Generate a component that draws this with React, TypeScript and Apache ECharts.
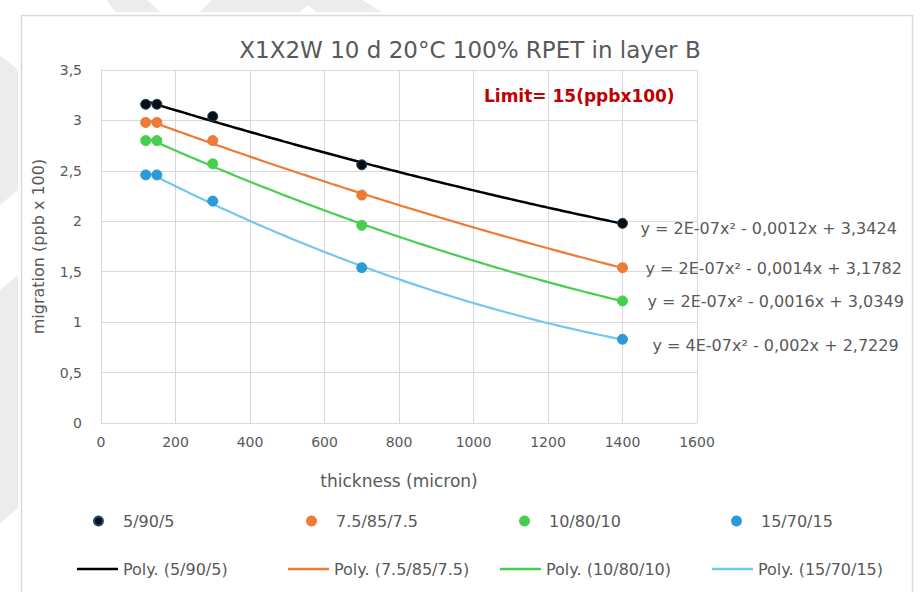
import React, { useEffect, useRef } from "react";
import * as echarts from "echarts";

// Layer thickness (micron) at which migration was measured
const thickness = [120, 150, 300, 700, 1400];

// Layer structures (outer / core / outer %)
const structures = ["5/90/5", "7.5/85/7.5", "10/80/10", "15/70/15"];

// Migration (ppb x 100) per structure
const migration_5_90_5 = [3.16, 3.16, 3.04, 2.56, 1.98];
const migration_75_85_75 = [2.98, 2.98, 2.8, 2.26, 1.54];
const migration_10_80_10 = [2.8, 2.8, 2.57, 1.96, 1.21];
const migration_15_70_15 = [2.46, 2.46, 2.2, 1.54, 0.83];

// Trendline equations as printed on the chart
const equations = [
  "y = 2E-07x\u00B2 - 0,0012x + 3,3424",
  "y = 2E-07x\u00B2 - 0,0014x + 3,1782",
  "y = 2E-07x\u00B2 - 0,0016x + 3,0349",
  "y = 4E-07x\u00B2 - 0,002x + 2,7229",
];

const xTicks = { min: 0, max: 1600, interval: 200 };
const yTicks = { min: 0, max: 3.5, interval: 0.5 };

const titleText = "X1X2W 10 d 20\u00B0C 100% RPET in layer B";
const limitText = "Limit= 15(ppbx100)";

const markerColors = ["#0b0f14", "#ee7a35", "#46cf4f", "#2a9ad8"];
const lineColors = ["#000000", "#ee7a35", "#46cf4f", "#72c7ef"];

// Least-squares quadratic fit (2nd order polynomial trendline)
function quadFit(xs: number[], ys: number[]) {
  let s0 = 0, s1 = 0, s2 = 0, s3 = 0, s4 = 0, t0 = 0, t1 = 0, t2 = 0;
  for (let i = 0; i < xs.length; i++) {
    const x = xs[i], y = ys[i];
    s0 += 1; s1 += x; s2 += x * x; s3 += x * x * x; s4 += x * x * x * x;
    t0 += y; t1 += x * y; t2 += x * x * y;
  }
  const A = [
    [s4, s3, s2, t2],
    [s3, s2, s1, t1],
    [s2, s1, s0, t0],
  ];
  for (let c = 0; c < 3; c++) {
    let p = c;
    for (let r = c + 1; r < 3; r++) if (Math.abs(A[r][c]) > Math.abs(A[p][c])) p = r;
    [A[c], A[p]] = [A[p], A[c]];
    for (let r = 0; r < 3; r++) {
      if (r === c) continue;
      const f = A[r][c] / A[c][c];
      for (let k = c; k < 4; k++) A[r][k] -= f * A[c][k];
    }
  }
  const a = A[0][3] / A[0][0];
  const b = A[1][3] / A[1][1];
  const c = A[2][3] / A[2][2];
  return (x: number) => a * x * x + b * x + c;
}

const labelOffsets: [number, number][] = [
  [18, 5],
  [23, 1],
  [25, 0],
  [30, 6],
];

export default function App() {
  const ref = useRef<HTMLDivElement>(null);

  useEffect(() => {
    if (!ref.current) return;
    const chart = echarts.init(ref.current, undefined, { renderer: "svg" });
    const allSeries = [migration_5_90_5, migration_75_85_75, migration_10_80_10, migration_15_70_15];
    const font = "'DejaVu Sans', sans-serif";

    const scatterSeries = allSeries.map((vals, i) => ({
      name: structures[i],
      type: "scatter",
      symbol: "circle",
      symbolSize: 10,
      z: 4,
      itemStyle: {
        color: markerColors[i],
        opacity: 1,
        borderColor: i === 0 ? "#1d4a6a" : markerColors[i],
        borderWidth: 1,
      },
      data: thickness.map((t, k) => [t, vals[k]]),
    }));

    const trendSeries = allSeries.map((vals, i) => {
      const f = quadFit(thickness, vals);
      const x0 = thickness[0];
      const x1 = thickness[thickness.length - 1];
      const pts: number[][] = [];
      for (let x = x0; x <= x1; x += 10) pts.push([x, f(x)]);
      return {
        name: "Poly. (" + structures[i] + ")",
        type: "line",
        showSymbol: false,
        symbol: "none",
        z: 3,
        color: lineColors[i],
        lineStyle: { color: lineColors[i], width: i === 0 ? 2.5 : 2.2 },
        itemStyle: { color: lineColors[i] },
        endLabel: {
          show: true,
          distance: 0,
          offset: labelOffsets[i],
          formatter: equations[i],
          color: "#595959",
          fontSize: 16,
          fontFamily: font,
        },
        data: pts,
      };
    });

    const markerLegendLeft = [93, 306, 519, 731];
    const lineLegendLeft = [77, 288, 500, 712];
    const legendText = { color: "#595959", fontSize: 16, fontFamily: font };

    const legends: any[] = [];
    structures.forEach((s, i) => {
      legends.push({
        data: [s],
        left: markerLegendLeft[i],
        top: 513,
        padding: 0,
        icon: "circle",
        itemWidth: 9,
        itemHeight: 9,
        selectedMode: false,
        textStyle: { ...legendText, padding: [0, 0, 0, 15] },
      });
      legends.push({
        data: ["Poly. (" + s + ")"],
        left: lineLegendLeft[i],
        top: 561,
        padding: 0,
        icon: "rect",
        itemWidth: 41,
        itemHeight: 2.5,
        selectedMode: false,
        textStyle: legendText,
      });
    });

    const wm = "#ececec";
    chart.setOption({
      animation: false,
      backgroundColor: "#ffffff",
      title: {
        text: titleText,
        left: 465,
        textAlign: "center",
        top: 33,
        textStyle: { color: "#595959", fontSize: 23, fontWeight: "normal", fontFamily: font },
      },
      grid: { left: 101, top: 70, width: 596, height: 353, containLabel: false },
      xAxis: {
        type: "value",
        min: xTicks.min,
        max: xTicks.max,
        interval: xTicks.interval,
        name: "thickness (micron)",
        nameLocation: "middle",
        nameGap: 49,
        nameTextStyle: { color: "#595959", fontSize: 17, fontFamily: font },
        axisLine: { show: true, lineStyle: { color: "#d9d9d9", width: 1 } },
        axisTick: { show: false },
        axisLabel: {
          color: "#595959",
          fontSize: 14,
          margin: 12,
          fontFamily: font,
          formatter: (v: number) => String(v),
        },
        splitLine: { show: true, lineStyle: { color: "#d9d9d9", width: 1 } },
      },
      yAxis: {
        type: "value",
        min: yTicks.min,
        max: yTicks.max,
        interval: yTicks.interval,
        name: "migration (ppb x 100)",
        nameLocation: "middle",
        nameGap: 55,
        nameRotate: 90,
        nameTextStyle: { color: "#595959", fontSize: 16, fontFamily: font },
        axisLine: { show: true, lineStyle: { color: "#d9d9d9", width: 1 } },
        axisTick: { show: false },
        axisLabel: {
          color: "#595959",
          fontSize: 14,
          margin: 19,
          fontFamily: font,
          formatter: (v: number) => String(v).replace(".", ","),
        },
        splitLine: { show: true, lineStyle: { color: "#d9d9d9", width: 1 } },
      },
      legend: legends,
      graphic: [
        // faint background watermark shapes
        { type: "polygon", z: -20, shape: { points: [[107, 0], [147, 0], [160, 12], [115, 12]] }, style: { fill: wm } },
        { type: "polygon", z: -20, shape: { points: [[200, 12], [212, 0], [362, 0], [382, 12], [316, 12], [308, 5], [300, 12]] }, style: { fill: wm } },
        { type: "polygon", z: -20, shape: { points: [[0, 55], [18, 70], [18, 190], [0, 205]] }, style: { fill: wm } },
        { type: "polygon", z: -20, shape: { points: [[0, 290], [18, 275], [18, 508], [0, 523]] }, style: { fill: wm } },
        // chart area frame
        {
          type: "rect",
          z: -10,
          shape: { x: 21.5, y: 15.5, width: 891, height: 600 },
          style: { fill: "#ffffff", stroke: "#d9d9d9", lineWidth: 1.5 },
        },
        {
          type: "text",
          z: 50,
          left: 484,
          top: 87,
          style: { text: limitText, fill: "#c00000", fontSize: 17, fontWeight: "bold", fontFamily: font },
        },
      ],
      series: [...trendSeries, ...scatterSeries],
    });
    return () => chart.dispose();
  }, []);

  return (
    <div
      ref={ref}
      style={{ position: "absolute", left: 0, top: 0, width: 921, height: 592 }}
    />
  );
}
